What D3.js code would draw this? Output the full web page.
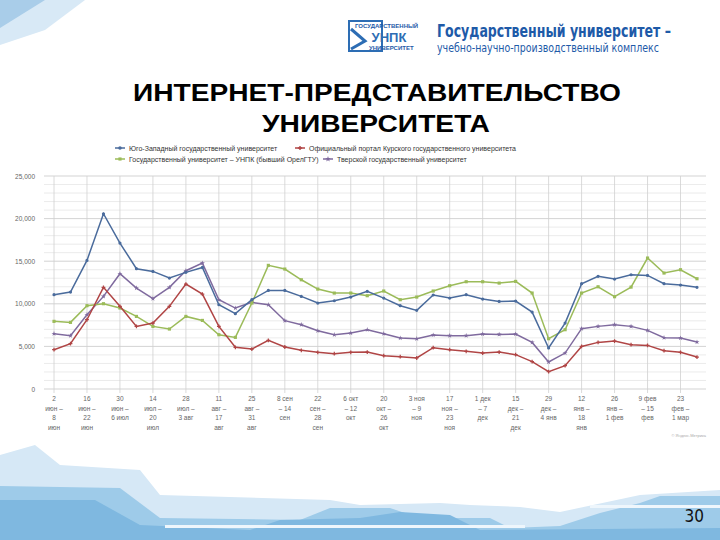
<!DOCTYPE html>
<html>
<head>
<meta charset="utf-8">
<script src="https://cdn.jsdelivr.net/npm/d3@7"></script>
<style>
  body { margin: 0; background: #fff; }
  svg { display: block; font-family: "Liberation Sans", Arial, sans-serif; }
</style>
</head>
<body>
<svg id="chart" width="720" height="540"></svg>
<script>
// week labels (every second week is labelled)
const weekLabels = [
  "2|июн –|8|июн", "16|июн –|22|июн", "30|июн –|6 июл", "14|июл –|20|июл",
  "28|июл –|3 авг", "11|авг –|17|авг", "25|авг –|31|авг", "8 сен|– 14|сен",
  "22|сен –|28|сен", "6 окт|– 12|окт", "20|окт –|26|окт", "3 ноя|– 9|ноя",
  "17|ноя –|23|ноя", "1 дек|– 7|дек", "15|дек –|21|дек", "29|дек –|4 янв",
  "12|янв –|18|янв", "26|янв –|1 фев", "9 фев|– 15|фев", "23|фев –|1 мар"
];
const yTicks = [0, 5000, 10000, 15000, 20000, 25000];

const seriesNames = [
  "Юго-Западный государственный университет",
  "Официальный портал Курского государственного университета",
  "Государственный университет – УНПК (бывший ОрелГТУ)",
  "Тверской государственный университет"
];

const swsu = [11070, 11380, 15090, 20570, 17130, 14120, 13800, 13020, 13690, 14270,
  9890, 8840, 10480, 11570, 11570, 10870, 10090, 10360, 10790, 11460,
  10670, 9780, 9230, 11030, 10670, 11070, 10560, 10280, 10320, 9030,
  4810, 7740, 12360, 13220, 12900, 13410, 13330, 12360, 12200, 11930];
const kursk = [4610, 5320, 8130, 11930, 9700, 7350, 7740, 9700, 12320, 11140,
  7350, 4890, 4690, 5710, 4930, 4540, 4300, 4140, 4300, 4340,
  3910, 3790, 3640, 4850, 4610, 4420, 4220, 4340, 4030, 3210,
  2030, 2740, 5000, 5470, 5630, 5200, 5120, 4500, 4300, 3750];
const unpk = [7940, 7820, 9780, 10010, 9500, 8520, 7350, 7040, 8520, 8050,
  6370, 6060, 10090, 14510, 14080, 12820, 11730, 11260, 11260, 10950,
  11500, 10480, 10790, 11500, 12120, 12590, 12590, 12430, 12630, 11260,
  5900, 6960, 11260, 12000, 10830, 11960, 15370, 13610, 14000, 12940];
const tver = [6490, 6260, 8720, 10870, 13530, 11850, 10600, 11930, 13880, 14780,
  10480, 9500, 10170, 9890, 8020, 7550, 6840, 6370, 6570, 6960,
  6490, 5980, 5900, 6330, 6260, 6260, 6450, 6410, 6450, 5470,
  3170, 4220, 7080, 7350, 7550, 7350, 6880, 6020, 5980, 5510];

const colors = ["#4a6b9c", "#b04545", "#9bbb59", "#7f6a9e"];
const symbols = [d3.symbolCircle, d3.symbolCross, d3.symbolSquare, d3.symbolStar];
const allSeries = [swsu, kursk, unpk, tver];

const svg = d3.select("#chart");
const narrow = "'Liberation Sans Narrow', 'DejaVu Sans Condensed', sans-serif";

// --- decorative background ---
const deco = svg.append("g");
deco.append("path").attr("d", "M0,0 L85,0 L45,30 L0,45 Z").attr("fill", "#d8e9f6");
deco.append("path").attr("d", "M0,0 L45,0 L0,28 Z").attr("fill", "#a9cde9");
deco.append("path")
  .attr("d", "M0,455 L35,445 L60,465 L140,470 L160,495 L330,500 L360,505 L440,503 L470,505 L520,507 L560,512 L640,495 L720,490 L720,540 L0,540 Z")
  .attr("fill", "#d6e8f6");
deco.append("path")
  .attr("d", "M0,486 L120,488 L160,518 L300,520 L330,508 L390,508 L420,518 L490,518 L510,528 L560,526 L600,513 L640,503 L660,496 L720,496 L720,540 L0,540 Z")
  .attr("fill", "#9ecbe9");
deco.append("path")
  .attr("d", "M0,500 L95,500 L140,525 L250,530 L280,520 L360,518 L400,512 L450,515 L480,530 L720,528 L720,540 L0,540 Z")
  .attr("fill", "#7fb8e0");
deco.append("rect").attr("x", 165).attr("y", 525).attr("width", 360).attr("height", 3).attr("fill", "#eef6fc");
deco.append("rect").attr("x", 590).attr("y", 505).attr("width", 130).attr("height", 3).attr("fill", "#eef6fc");

// --- header logo ---
const logo = svg.append("g").attr("transform", "translate(349,21)");
logo.append("rect").attr("width", 33).attr("height", 30).attr("fill", "none")
  .attr("stroke", "#2d6db4").attr("stroke-width", 2);
logo.append("path").attr("d", "M2,8 L16,20 L2,28").attr("fill", "none")
  .attr("stroke", "#2d6db4").attr("stroke-width", 3);
logo.append("text").attr("x", 6).attr("y", 7).attr("font-size", 6).attr("font-weight", "bold")
  .attr("fill", "#1e5aa8").text("ГОСУДАРСТВЕННЫЙ");
logo.append("text").attr("x", 40).attr("y", 21).attr("font-size", 13).attr("font-weight", "bold")
  .attr("fill", "#2d6db4").attr("text-anchor", "middle").text("УНПК");
logo.append("text").attr("x", 20).attr("y", 29).attr("font-size", 6).attr("font-weight", "bold")
  .attr("fill", "#1e5aa8").text("УНИВЕРСИТЕТ");
svg.append("text").attr("x", 437).attr("y", 37).attr("font-size", 17).attr("font-weight", "bold")
  .attr("fill", "#1e5aa8").attr("font-family", narrow)
  .attr("textLength", 234).attr("lengthAdjust", "spacingAndGlyphs")
  .text("Государственный университет –");
svg.append("text").attr("x", 437).attr("y", 52).attr("font-size", 12)
  .attr("fill", "#1e5aa8").attr("font-family", narrow)
  .attr("textLength", 222).attr("lengthAdjust", "spacingAndGlyphs")
  .text("учебно-научно-производственный комплекс");

// --- title ---
svg.append("text").attr("x", 377).attr("y", 101).attr("text-anchor", "middle")
  .attr("font-size", 24).attr("font-weight", "bold")
  .attr("textLength", 488).attr("lengthAdjust", "spacingAndGlyphs").text("ИНТЕРНЕТ-ПРЕДСТАВИТЕЛЬСТВО");
svg.append("text").attr("x", 376).attr("y", 132).attr("text-anchor", "middle")
  .attr("font-size", 24).attr("font-weight", "bold")
  .attr("textLength", 228).attr("lengthAdjust", "spacingAndGlyphs").text("УНИВЕРСИТЕТА");

// --- legend ---
const legendPos = [[115, 148], [295, 148], [115, 159], [323, 159]];
seriesNames.forEach((name, i) => {
  const g = svg.append("g").attr("transform", `translate(${legendPos[i][0]},${legendPos[i][1]})`);
  g.append("line").attr("x1", 0).attr("x2", 10).attr("stroke", colors[i]).attr("stroke-width", 1.5);
  g.append("path").attr("transform", "translate(5,0)")
    .attr("d", d3.symbol().type(symbols[i]).size(10)()).attr("fill", colors[i]);
  g.append("text").attr("x", 14).attr("y", 2.5).attr("font-size", 7).attr("fill", "#333").text(name);
});

// --- chart ---
const x = d3.scaleLinear().domain([0, swsu.length - 1]).range([54, 697]);
const y = d3.scaleLinear().domain([0, 25000]).range([389, 176]);

const grid = svg.append("g");
d3.range(0, 25001, 1000).forEach(v => {
  grid.append("line").attr("x1", 44).attr("x2", 706).attr("y1", y(v)).attr("y2", y(v))
    .attr("stroke", v % 5000 === 0 ? "#c8c8c8" : "#e6e6e6").attr("stroke-width", 0.8);
});
weekLabels.forEach((l, k) => {
  grid.append("line").attr("x1", x(k * 2)).attr("x2", x(k * 2)).attr("y1", y(25000)).attr("y2", y(0) + 4)
    .attr("stroke", "#d0d0d0").attr("stroke-width", 0.8);
});

const yAxis = svg.append("g").attr("transform", "translate(38,0)")
  .call(d3.axisLeft(y).tickValues(yTicks).tickSize(0).tickFormat(d3.format(",")));
yAxis.select(".domain").remove();
yAxis.selectAll("text").attr("font-size", 6.5).attr("fill", "#666").attr("text-anchor", "end");

const xl = svg.append("g");
weekLabels.forEach((l, k) => {
  const t = xl.append("text").attr("x", x(k * 2)).attr("y", 401).attr("text-anchor", "middle")
    .attr("font-size", 6.5).attr("fill", "#666");
  l.split("|").forEach((s, j) => t.append("tspan").attr("x", x(k * 2)).attr("dy", j ? 9.5 : 0).text(s));
});

const line = d3.line().x((d, i) => x(i)).y(d => y(d));
allSeries.slice().reverse().forEach((s, ri) => {
  const i = allSeries.length - 1 - ri;
  svg.append("path").datum(s).attr("d", line).attr("fill", "none")
    .attr("stroke", colors[i]).attr("stroke-width", 1.5);
  svg.selectAll(null).data(s).enter().append("path")
    .attr("transform", (d, j) => `translate(${x(j)},${y(d)})`)
    .attr("d", d3.symbol().type(symbols[i]).size(i === 2 ? 10 : 8)())
    .attr("fill", colors[i]);
});

svg.append("text").attr("x", 706).attr("y", 437).attr("text-anchor", "end")
  .attr("font-size", 4).attr("fill", "#aaa").text("© Яндекс.Метрика");

// page number
svg.append("text").attr("x", 704).attr("y", 522).attr("text-anchor", "end")
  .attr("font-size", 17).attr("fill", "#111")
  .attr("font-family", narrow).text("30");
</script>
</body>
</html>
